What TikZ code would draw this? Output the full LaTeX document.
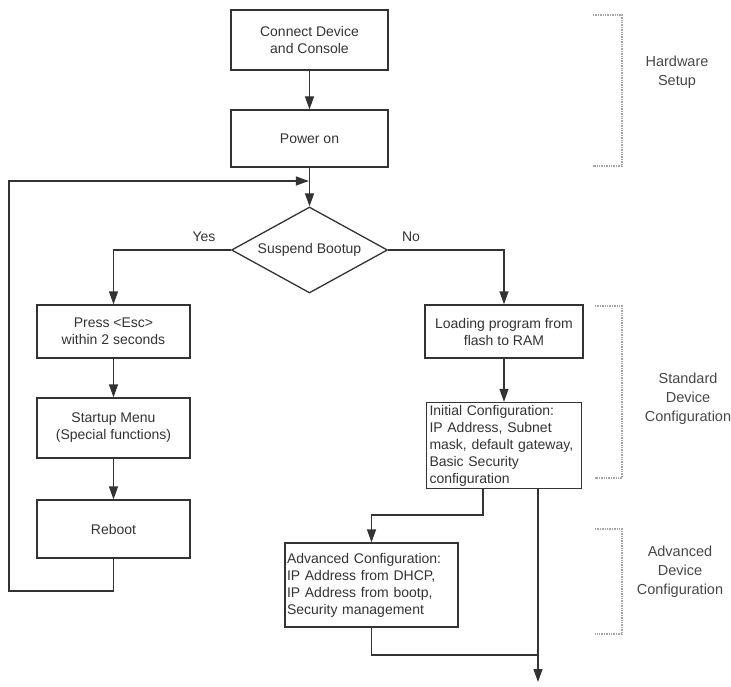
\documentclass[tikz,border=0pt]{standalone}
\usepackage{fontspec}
\setmainfont{Liberation Sans}
\usetikzlibrary{shapes.geometric}
\usetikzlibrary{positioning}
\usetikzlibrary{arrows.meta}
\definecolor{ink}{gray}{0.2}
\tikzset{
    box/.style = {rectangle, draw=ink, line width=1.3pt, align=center, text=ink, inner sep=2pt, font=\fontsize{14}{17}\selectfont},
    boxl/.style = {box, align=left, inner xsep=3pt},
    decide/.style = {diamond, draw=ink, line width=1.3pt, text=ink, inner sep=0pt, aspect=1.8, font=\fontsize{14}{17}\selectfont},
    edgen/.style = {-{Triangle[length=13pt,width=9pt]}, line width=1.3pt, draw=ink},
    line/.style = {line width=1.3pt, draw=ink},
    bracket/.style = {line width=1.4pt, draw=gray!70, densely dotted}, % phase marks
    phase/.style = {text=ink!90, align=center, font=\fontsize{14.5}{19}\selectfont},
    answer/.style = {text=ink, font=\fontsize{14}{17}\selectfont}
}

\begin{document}
\begin{tikzpicture}[x=1pt,y=-1pt]
\useasboundingbox (0,0) rectangle (731,687);
% left column / main chain
\node[box, minimum width=157pt, minimum height=60pt] at (309.5, 40) (conn) {Connect Device\\and Console};
\node[box, minimum width=157pt, minimum height=57pt] at (309.5, 138.5) (power) {Power on};
\node[decide, minimum width=156pt, minimum height=86pt] at (309.5, 250) (susp) {Suspend Bootup};
\node[box, minimum width=153pt, minimum height=53pt] at (113.5, 331.5) (esc) {Press <Esc>\\within 2 seconds};
\node[box, minimum width=153pt, minimum height=60pt] at (113.5, 428) (menu) {Startup Menu\\(Special functions)};
\node[box, minimum width=153pt, minimum height=58pt] at (113.5, 529) (reboot) {Reboot};
% right column
\node[box, minimum width=158pt, minimum height=53pt] at (504, 331.5) (load) {Loading program from\\flash to RAM};
\node[boxl, text width=149pt, minimum height=86pt] at (504, 445.5) (init) {Initial Configuration:\\IP Address, Subnet\\mask, default gateway,\\Basic Security\\configuration};
\node[boxl, text width=169pt, minimum height=84pt, inner xsep=2pt] at (371.5, 585) (adv) {Advanced Configuration:\\IP Address from DHCP,\\IP Address from bootp,\\Security management};
\node[answer] at (204, 237) (yes) {Yes};
\node[answer] at (411, 237) (no) {No};
\coordinate (loop) at (309.5, 181);
\coordinate (low) at (9, 591);
\coordinate (split) at (483, 515);
\coordinate (join) at (538, 655);
\coordinate (out) at (538, 682);

\draw[edgen] (conn) -- (power);
\draw[edgen] (power) -- (susp);
\draw[edgen] (susp.west) -| (esc.north);
\draw[edgen] (susp.east) -| (load.north);
\draw[edgen] (esc) -- (menu);
\draw[edgen] (menu) -- (reboot);
\draw[edgen] (reboot.south) |- (low) -- (low |- loop) -- ([xshift=-0.6pt]loop);
\draw[edgen] (load) -- (init);
\draw[edgen] (init.south -| split) -- (split) -| (adv.north);
\draw[line] (adv.south) |- (join);
\draw[edgen] (init.south -| out) -- (out);

% phase brackets
\draw[bracket] (593, 15) -| (622, 166) -- (593, 166);
\draw[bracket] (595, 306) -| (622, 478) -- (595, 478);
\draw[bracket] (595, 529) -| (622, 634) -- (595, 634);
\node[phase] at (677, 72) (hw) {Hardware\\Setup};
\node[phase] at (688, 399) (std) {Standard\\Device\\Configuration};
\node[phase] at (680, 572) (advl) {Advanced\\Device\\Configuration};
\end{tikzpicture}
\end{document}
